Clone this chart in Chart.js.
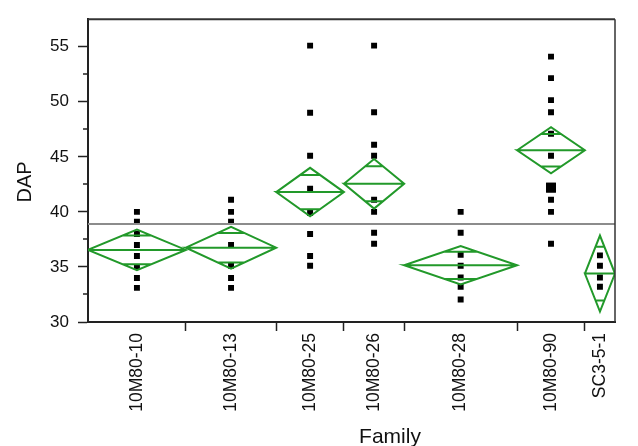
<!DOCTYPE html>
<html>
<head>
<meta charset="utf-8">
<script src="https://cdn.jsdelivr.net/npm/chart.js@4.4.1/dist/chart.umd.min.js"></script>
<style>
  html, body { margin: 0; padding: 0; background: #fff; }
  #wrap { width: 638px; height: 446px; }
</style>
</head>
<body>
<div id="wrap"><canvas id="dapChart" width="638" height="446"></canvas></div>
<script>
// families along the x axis, widths follow sample size (JMP style)
const families = ['10M80-10', '10M80-13', '10M80-25', '10M80-26', '10M80-28', '10M80-90', 'SC3-5-1'];
const sampleSizes = [13, 12, 9, 8, 15, 9, 4];

// means diamonds: group mean and 95% CI half width
const meanDAP = [36.55, 36.75, 41.8, 42.55, 35.15, 45.6, 34.4];
const ciHalfWidth = [1.85, 1.9, 2.2, 2.25, 1.75, 2.1, 3.45];
const grandMean = 38.9;

// observed DAP values per family (visible points)
const dap10 = [40, 39.1, 38, 37, 36, 35, 34, 33.1];
const dap13 = [41.1, 40, 39.1, 37, 35.1, 34, 33.1];
const dap25 = [55.1, 49, 45.1, 42.1, 39.9, 38, 36, 35.1];
const dap26 = [55.1, 49.05, 46.1, 45.1, 41.1, 40, 38.1, 37.1];
const dap28 = [40, 38.1, 36.1, 35.1, 34.05, 33.2, 32.05];
const dap90 = [54.1, 52.15, 50.15, 49.05, 47.1, 45.1, 42.2, 42.2, 41.1, 40, 37.1];
const dapSC = [36.05, 35.1, 34.05, 33.2];
const dapValues = [dap10, dap13, dap25, dap26, dap28, dap90, dapSC];

const yTickValues = [30, 35, 40, 45, 50, 55];
const yMinorTickValues = [32.5, 37.5, 42.5, 47.5, 52.5];

const GREEN = '#22992a';
const FONT = "'Liberation Sans', Arial, Helvetica, sans-serif";

// category boundaries and centres on a linear x scale
const bounds = [0];
sampleSizes.forEach(n => bounds.push(bounds[bounds.length - 1] + n));
const centers = families.map((_, i) => (bounds[i] + bounds[i + 1]) / 2);
const total = bounds[bounds.length - 1];

function diamond(i) {
    const l = bounds[i], r = bounds[i + 1], c = centers[i];
    const m = meanDAP[i], h = ciHalfWidth[i];
    const o = h / Math.SQRT2;                 // overlap marks
    const ow = (r - l) / 2 * (1 - 1 / Math.SQRT2);
    return [
        {x: l, y: m}, {x: c, y: m + h}, {x: r, y: m}, {x: c, y: m - h}, {x: l, y: m}, {x: r, y: m},
        {x: c, y: null},
        {x: c - ow, y: m + o}, {x: c + ow, y: m + o},
        {x: c, y: null},
        {x: c - ow, y: m - o}, {x: c + ow, y: m - o}
    ];
}

const points = [];
const radii = [];
dapValues.forEach((vals, i) => {
    vals.forEach(v => {
        points.push({x: centers[i], y: v});
        const dup = vals.filter(w => w === v).length > 1;
        radii.push(dup ? 7 : 4.2);
    });
});

const datasets = [{
    label: 'grand mean',
    data: [{x: 0, y: grandMean}, {x: total, y: grandMean}],
    showLine: true,
    borderColor: '#8c8c8c',
    borderWidth: 2,
    pointRadius: 0
}];
families.forEach((f, i) => {
    datasets.push({
        label: f,
        data: diamond(i),
        showLine: true,
        spanGaps: false,
        borderColor: GREEN,
        borderWidth: 2,
        borderJoinStyle: 'miter',
        pointRadius: 0,
        tension: 0
    });
});
datasets.push({
    label: 'DAP',
    data: points,
    pointStyle: 'rect',
    pointRadius: radii,
    backgroundColor: '#000',
    borderWidth: 0
});

const framePlugin = {
    id: 'frame',
    afterDraw(chart) {
        const {ctx, chartArea: a, scales: {y}} = chart;
        ctx.save();
        ctx.strokeStyle = '#333';
        ctx.lineWidth = 2;
        ctx.beginPath();
        ctx.moveTo(a.left, a.top);
        ctx.lineTo(a.right, a.top);
        ctx.stroke();
        ctx.lineWidth = 1.5;
        ctx.beginPath();
        ctx.moveTo(a.right, a.top);
        ctx.lineTo(a.right, a.bottom);
        ctx.stroke();
        // minor ticks on the y axis
        ctx.strokeStyle = '#222';
        ctx.lineWidth = 1.5;
        yMinorTickValues.forEach(v => {
            const py = Math.round(y.getPixelForValue(v));
            ctx.beginPath();
            ctx.moveTo(a.left - 5, py);
            ctx.lineTo(a.left, py);
            ctx.stroke();
        });
        ctx.fillStyle = '#111';
        // x title, JMP puts it a little right of centre
        ctx.font = '21px ' + FONT;
        ctx.textAlign = 'center';
        ctx.textBaseline = 'alphabetic';
        ctx.fillText('Family', 390, 443);
        // y title
        ctx.font = '20px ' + FONT;
        ctx.textBaseline = 'middle';
        ctx.translate(25, 182);
        ctx.rotate(-Math.PI / 2);
        ctx.fillText('DAP', 0, 0);
        ctx.restore();
    }
};

new Chart(document.getElementById('dapChart'), {
    type: 'scatter',
    data: {datasets},
    options: {
        responsive: false,
        animation: false,
        layout: {padding: {top: 14, right: 2, left: 0, bottom: 0}},
        plugins: {legend: {display: false}, tooltip: {enabled: false}},
        scales: {
            x: {
                type: 'linear',
                min: 0,
                max: total,
                afterBuildTicks: s => {
                    s.ticks = [...bounds, ...centers].sort((a, b) => a - b).map(v => ({value: v}));
                },
                afterFit: s => { s.height = 124; },
                ticks: {
                    autoSkip: false,
                    minRotation: 90,
                    maxRotation: 90,
                    padding: 2,
                    color: '#111',
                    font: {family: FONT, size: 17.5},
                    callback: v => {
                        const i = centers.indexOf(v);
                        return i >= 0 ? families[i] : '';
                    }
                },
                grid: {
                    drawOnChartArea: false,
                    drawTicks: true,
                    tickLength: 9,
                    tickWidth: 1.5,
                    tickColor: c => {
                        const v = c.tick ? c.tick.value : -1;
                        return (bounds.indexOf(v) > 0 && v < total) ? '#222' : 'rgba(0,0,0,0)';
                    }
                },
                border: {display: true, color: '#222', width: 2}
            },
            y: {
                min: 30,
                max: 57.5,
                afterBuildTicks: s => { s.ticks = yTickValues.map(v => ({value: v})); },
                afterFit: s => { s.width = 88; },
                ticks: {
                    padding: 9,
                    color: '#111',
                    font: {family: FONT, size: 17}
                },
                grid: {
                    drawOnChartArea: false,
                    drawTicks: true,
                    tickLength: 10,
                    tickWidth: 1.5,
                    tickColor: '#222'
                },
                border: {display: true, color: '#222', width: 2}
            }
        }
    },
    plugins: [framePlugin]
});
</script>
</body>
</html>
